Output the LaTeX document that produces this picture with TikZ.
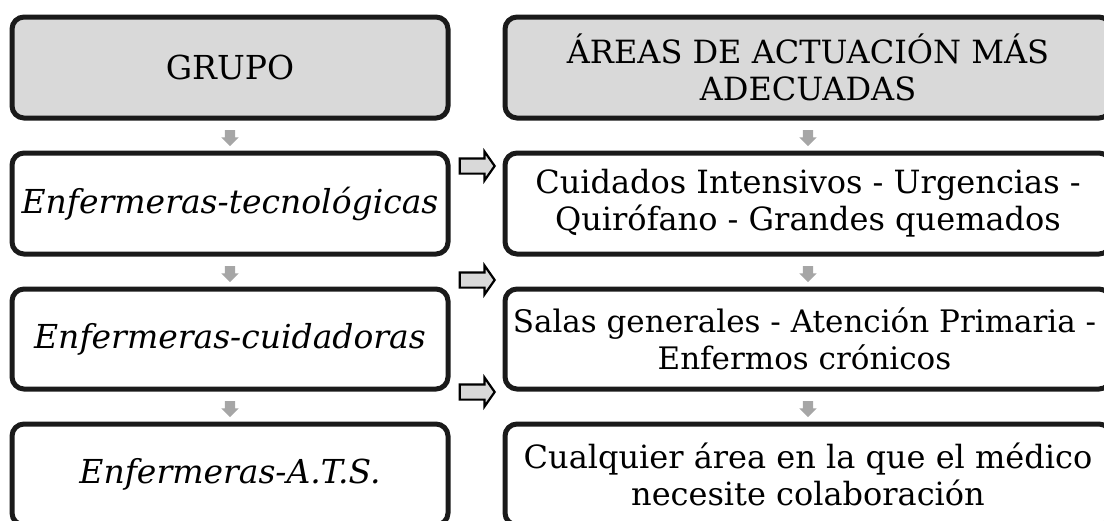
\documentclass[tikz,border=0pt]{standalone}
\usepackage{fontspec}
\setmainfont{DejaVu Serif}
\usetikzlibrary{shapes.arrows,calc}
\definecolor{boxline}{HTML}{1A1A1A}
\definecolor{headfill}{HTML}{D9D9D9}
\definecolor{downgray}{HTML}{A6A6A6}
\begin{document}
\begin{tikzpicture}[x=1pt,y=-1pt,
  box/.style={draw=boxline, line width=5pt, rounded corners=12pt, align=center,
    inner sep=0pt, font=\fontsize{32}{37}\selectfont},
  itbox/.style={font=\fontsize{33}{37}\selectfont\itshape},
  leftbox/.style={box, minimum width=436pt, minimum height=101pt},
  rightbox/.style={box, minimum width=606pt, minimum height=101pt},
  headbox/.style={fill=headfill},
  downarrow/.style={single arrow, shape border rotate=270, fill=downgray, draw=none,
    minimum height=16pt, minimum width=17pt, inner sep=5pt, single arrow head extend=3.5pt},
  sidearrow/.style={single arrow, fill=headfill, draw=black, line width=2.2pt,
    minimum height=35pt, minimum width=28pt, inner sep=6.5pt,
    single arrow head extend=7pt, single arrow tip angle=110}
]
\useasboundingbox (0,0) rectangle (1104,520);
\clip (0,0) rectangle (1104,520);

\node[leftbox, headbox, font=\fontsize{33}{37}\selectfont] (l1) at (230,67.5) {GRUPO};
\node[rightbox, headbox] (r1) at (808,67.5) {ÁREAS DE ACTUACIÓN MÁS\\ADECUADAS};

\node[leftbox, itbox] (l2) at (230,203.5) {Enfermeras-tecnológicas};
\node[rightbox] (r2) at (808,203.5) {Cuidados Intensivos - Urgencias -\\Quirófano - Grandes quemados};

\node[leftbox, itbox, minimum height=100pt] (l3) at (230,339) {Enfermeras-cuidadoras};
\node[rightbox, minimum height=100pt, font=\fontsize{31}{37}\selectfont] (r3) at (808,339) {\hspace*{-7pt}Salas generales - Atención Primaria -\\\hspace*{-7pt}Enfermos crónicos};

\node[leftbox, itbox] (l4) at (230,474.5) {Enfermeras-A.T.S.};
\node[rightbox] (r4) at (808,474.5) {Cualquier área en la que el médico\\necesite colaboración};

\node[downarrow] (dl1) at ($(l1.south)!0.5!(l2.north)$) {};
\node[downarrow] (dl2) at ($(l2.south)!0.5!(l3.north)$) {};
\node[downarrow] (dl3) at ($(l3.south)!0.5!(l4.north)$) {};
\node[downarrow] (dr1) at ($(r1.south)!0.5!(r2.north)$) {};
\node[downarrow] (dr2) at ($(r2.south)!0.5!(r3.north)$) {};
\node[downarrow] (dr3) at ($(r3.south)!0.5!(r4.north)$) {};

\node[sidearrow] (s1) at (474.5,166) {};
\node[sidearrow] (s2) at (474.5,280) {};
\node[sidearrow] (s3) at (474.5,392) {};
\end{tikzpicture}
\end{document}
